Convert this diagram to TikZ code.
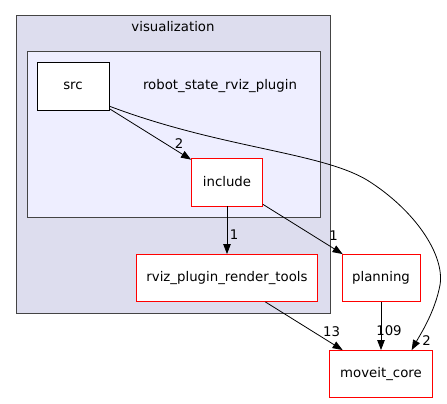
\documentclass[tikz,border=0pt]{standalone}
\usepackage{fontspec}
\setmainfont{DejaVu Sans}
\usepackage{tikz}
\usetikzlibrary{shapes,arrows.meta}
\definecolor{outerfill}{HTML}{DDDDEE}
\definecolor{innerfill}{HTML}{EEEEFF}
\definecolor{clusterline}{HTML}{444444}
\tikzstyle{cluster} = [rectangle, draw=clusterline, line width=1pt]
\tikzstyle{dir} = [rectangle, draw=red, fill=white, line width=0.9pt,
minimum height=47pt, inner sep=0pt]
\tikzstyle{plain} = [rectangle, draw=black, fill=white, line width=0.9pt,
minimum height=48pt, inner sep=0pt]
\tikzstyle{line} = [draw, line width=0.8pt, -{Triangle[length=10pt, width=7.5pt]}]
\tikzstyle{lbl} = [inner sep=0pt]
\begin{document}
\begin{tikzpicture}[x=1pt, y=-1pt, node distance = 96pt,
  every node/.style={font=\fontsize{13.3}{16}\selectfont}]
\useasboundingbox (0,0) rectangle (447,404);

% Place clusters
\node [cluster, fill=outerfill, minimum width=314pt, minimum height=297pt] (visbox) at (173,164.5) {};
\node [lbl] (vistitle) at (173,27) {visualization};
\node [cluster, fill=innerfill, minimum width=293pt, minimum height=165pt] (pluginbox) at (173.5,134.5) {};
\node [lbl] (plugintitle) at (220,86) {robot\_state\_rviz\_plugin};

% Place nodes
\node [plain, minimum width=72pt] (src) at (73,86) {src};
\node [dir, minimum width=71pt, minimum height=48pt] (include) at (227,182) {include};
\node [dir, minimum width=181pt, below of=include] (render) {rviz\_plugin\_render\_tools};
\node [dir, minimum width=78pt, right of=render, node distance=154pt] (planning) {planning};
\node [dir, minimum width=103pt, below of=planning] (core) {moveit\_core};

% Draw edges
\path [line] (src) -- (include) node [lbl, at end, xshift=-12pt, yshift=16pt] {2};
\path [line] (include) -- (render) node [lbl, at end, xshift=7pt, yshift=19pt] {1};
\path [line] (include) -- (planning) node [lbl, at end, xshift=-9pt, yshift=18pt] {1};
\path [line] (render) -- (core) node [lbl, at end, xshift=-11pt, yshift=18pt] {13};
\path [line] (planning) -- (core) node [lbl, at end, xshift=8pt, yshift=19pt] {109};
\path [line] (src.-29) .. controls (220,148) and (320,152) .. (367,180)
  .. controls (415,210) and (445,255) .. (440,285)
  .. controls (435,312) and (420,335) .. (core.38)
  node [lbl, at end, xshift=15pt, yshift=9pt] {2};
\end{tikzpicture}
\end{document}
